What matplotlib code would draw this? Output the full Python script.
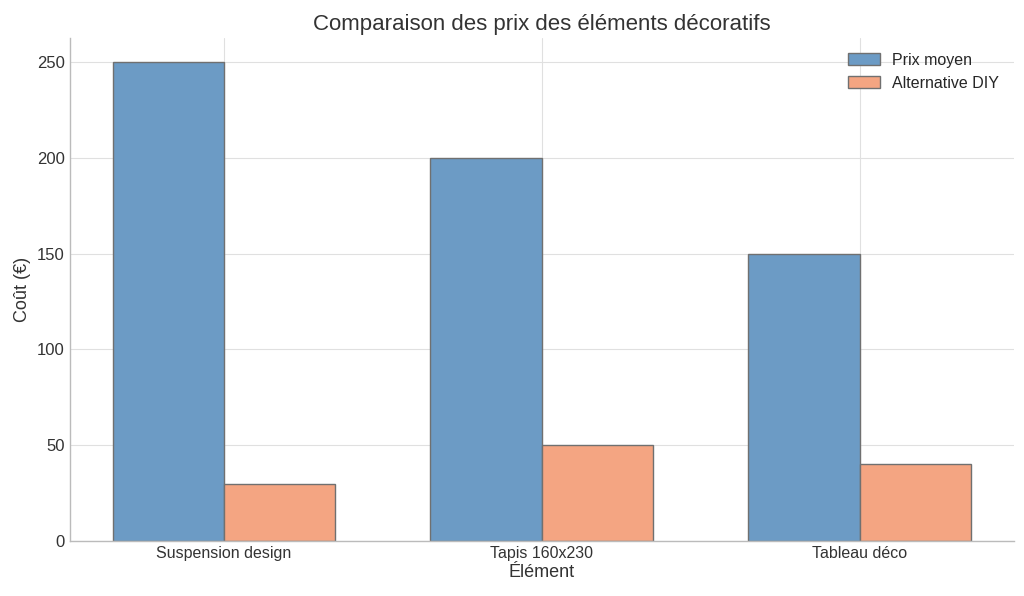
import matplotlib
matplotlib.use("Agg")
import matplotlib.pyplot as plt
import numpy as np

categories = ["Suspension design", "Tapis 160x230", "Tableau déco"]
prix_moyen = [250, 200, 150]
alternative_diy = [30, 50, 40]

plt.style.use("seaborn-v0_8-whitegrid")
fig = plt.figure(figsize=(10.24, 5.96), dpi=100)
ax = fig.add_axes([0.068, 0.0923, 0.922, 0.8437])
x = np.arange(len(categories))
w = 0.35
ax.bar(x - w/2, prix_moyen, w, color="#6C9BC5", edgecolor="#707070", linewidth=1, label="Prix moyen")
ax.bar(x + w/2, alternative_diy, w, color="#F4A582", edgecolor="#707070", linewidth=1, label="Alternative DIY")
ax.set_xticks(x)
ax.set_xticklabels(categories, fontsize=11.5, color="#333333")
ax.tick_params(axis="y", labelsize=12, colors="#333333")
ax.set_xlabel("Élément", fontsize=13, color="#333333", labelpad=2)
ax.set_ylabel("Coût (€)", fontsize=13, color="#333333")
ax.set_title("Comparaison des prix des éléments décoratifs", fontsize=16, color="#333333")
for s in ["top", "right"]:
    ax.spines[s].set_visible(False)
for s in ["left", "bottom"]:
    ax.spines[s].set_visible(True)
    ax.spines[s].set_color("#BBBBBB")
ax.grid(color="#E0E0E0")
ax.legend(loc="upper right", prop={"family": "Liberation Sans", "size": 11.5}, frameon=False)
fig.savefig("out.png", dpi=100)
